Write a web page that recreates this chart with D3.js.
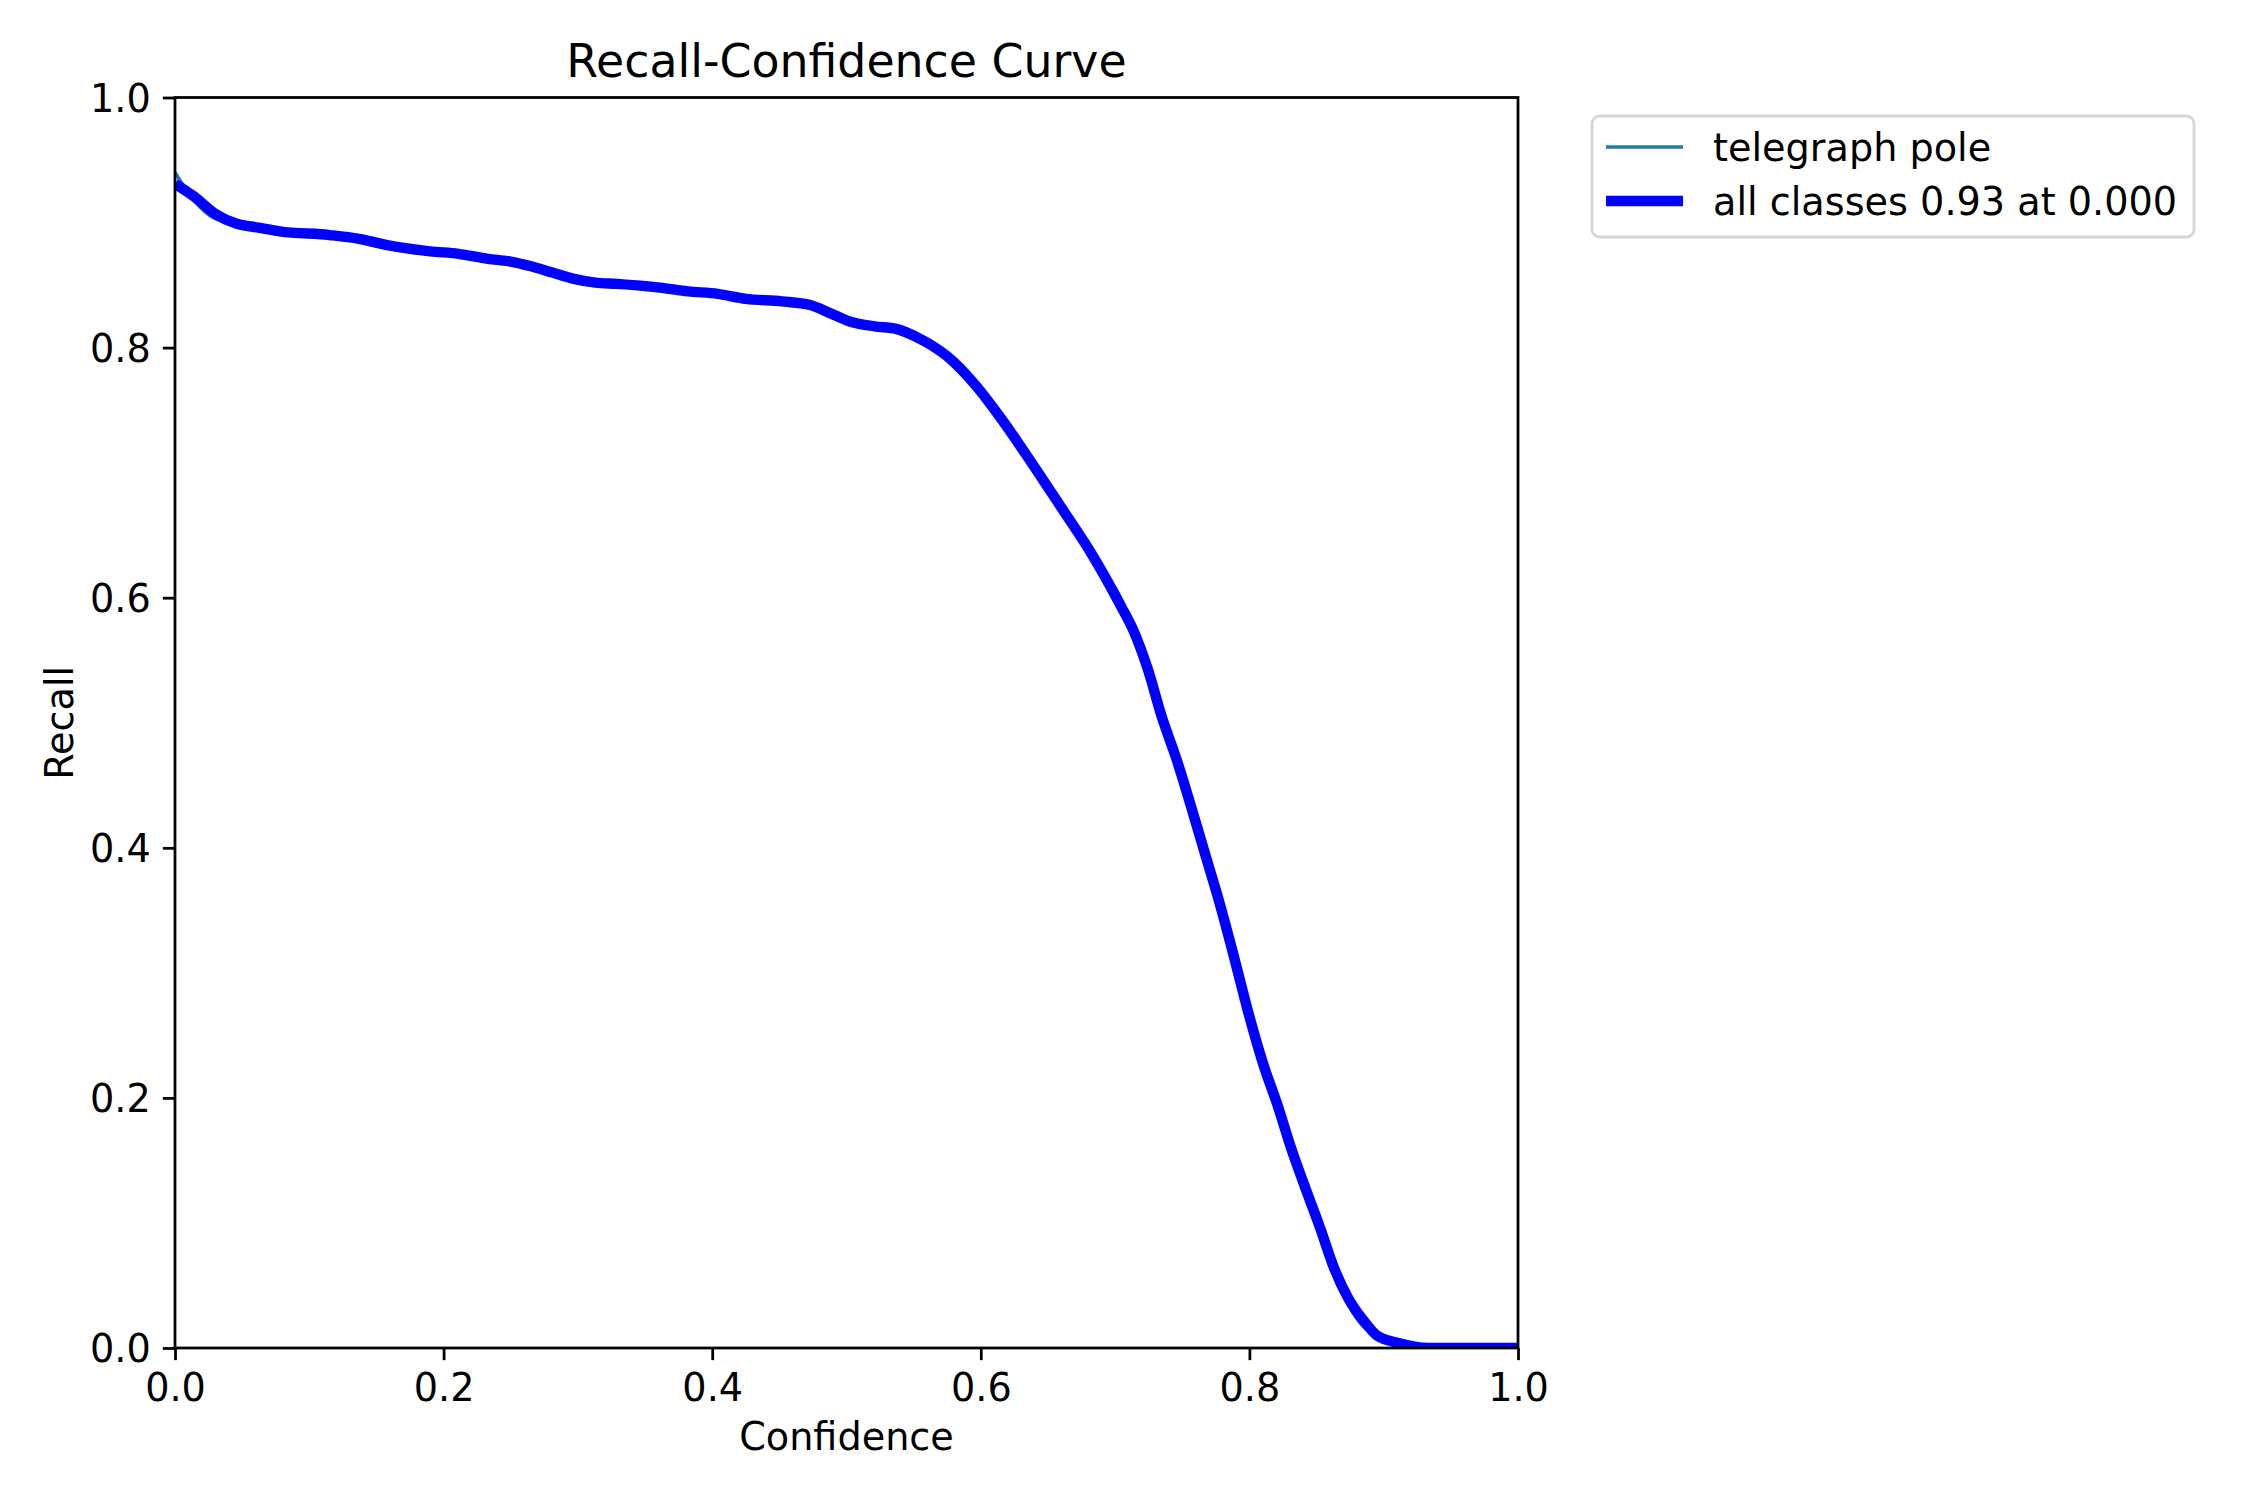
<!DOCTYPE html>
<html>
<head>
<meta charset="utf-8">
<script src="https://cdn.jsdelivr.net/npm/d3@7"></script>
<style>
  body { margin: 0; background: #fff; }
  text { font-family: "DejaVu Sans", sans-serif; fill: #000; }
</style>
</head>
<body>
<div id="chart"></div>
<script>
// confidence thresholds (x) and recall
var confidence = [0.000, 0.014, 0.030, 0.046, 0.062, 0.078, 0.115, 0.137, 0.158, 0.190,
    0.211, 0.233, 0.249, 0.265, 0.281, 0.297, 0.313, 0.329, 0.361, 0.382,
    0.404, 0.425, 0.452, 0.473, 0.489, 0.505, 0.521, 0.537, 0.553, 0.575,
    0.596, 0.618, 0.639, 0.660, 0.682, 0.703, 0.714, 0.724, 0.735, 0.746,
    0.756, 0.767, 0.778, 0.788, 0.799, 0.810, 0.821, 0.831, 0.842, 0.853,
    0.863, 0.874, 0.885, 0.895, 0.911, 0.933, 0.960, 1.000];

var recallAll = [0.931, 0.921, 0.907, 0.899, 0.896, 0.893, 0.890, 0.887, 0.882, 0.877,
    0.875, 0.871, 0.869, 0.865, 0.860, 0.855, 0.852, 0.851, 0.848, 0.845,
    0.843, 0.839, 0.837, 0.834, 0.827, 0.820, 0.817, 0.815, 0.808, 0.793,
    0.770, 0.739, 0.706, 0.672, 0.636, 0.596, 0.573, 0.544, 0.504, 0.470,
    0.435, 0.395, 0.355, 0.315, 0.269, 0.228, 0.194, 0.160, 0.127, 0.095,
    0.064, 0.039, 0.022, 0.010, 0.004, 0.000, 0.000, 0.000];

var recallPole = [0.940, 0.918, 0.903, 0.899, 0.896, 0.893, 0.890, 0.888, 0.881, 0.877,
    0.875, 0.871, 0.869, 0.866, 0.860, 0.855, 0.852, 0.851, 0.848, 0.845,
    0.843, 0.839, 0.837, 0.834, 0.826, 0.819, 0.817, 0.815, 0.810, 0.793,
    0.771, 0.738, 0.710, 0.672, 0.632, 0.602, 0.573, 0.546, 0.504, 0.468,
    0.428, 0.398, 0.352, 0.317, 0.268, 0.226, 0.192, 0.160, 0.124, 0.093,
    0.062, 0.034, 0.017, 0.010, 0.002, 0.000, 0.000, 0.000];

var seriesNames = ["telegraph pole", "all classes 0.93 at 0.000"];
var tickValues = [0, 0.2, 0.4, 0.6, 0.8, 1.0];

var W = 2250, H = 1500;
var margin = { left: 175, right: 732, top: 97.5, bottom: 152 };
var plotW = W - margin.left - margin.right,
    plotH = H - margin.top - margin.bottom;
var fontTick = 38.2, fontTitle = 45.8;
var lwAxis = 2.78, tickLen = 12.15, tickPad = 12.15;

var svg = d3.select("#chart").append("svg")
    .attr("width", W)
    .attr("height", H);

var g = svg.append("g")
    .attr("transform", "translate(" + margin.left + "," + margin.top + ")");

var x = d3.scaleLinear().domain([0, 1]).range([0, plotW]);
var y = d3.scaleLinear().domain([0, 1]).range([plotH, 0]);

g.append("clipPath").attr("id", "plotClip")
    .append("rect").attr("width", plotW).attr("height", plotH);

var poleData = confidence.map(function (c, i) { return [c, recallPole[i]]; });
var allData = confidence.map(function (c, i) { return [c, recallAll[i]]; });

var line = d3.line()
    .x(function (d) { return x(d[0]); })
    .y(function (d) { return y(d[1]); })
    .curve(d3.curveMonotoneX);

var lines = g.append("g").attr("clip-path", "url(#plotClip)");
lines.append("path").datum(poleData)
    .attr("d", line)
    .attr("fill", "none")
    .attr("stroke", "#1f77b4")
    .attr("stroke-width", 3.47);
lines.append("path").datum(allData)
    .attr("d", line)
    .attr("fill", "none")
    .attr("stroke", "#0000ff")
    .attr("stroke-width", 10.4)
    .attr("stroke-linejoin", "round");

// axes
var xAxis = g.append("g")
    .attr("transform", "translate(0," + plotH + ")")
    .call(d3.axisBottom(x).tickValues(tickValues).tickFormat(d3.format(".1f"))
        .tickSize(tickLen).tickPadding(tickPad));
var yAxis = g.append("g")
    .call(d3.axisLeft(y).tickValues(tickValues).tickFormat(d3.format(".1f"))
        .tickSize(tickLen).tickPadding(tickPad));

[xAxis, yAxis].forEach(function (a) {
    a.select(".domain").remove();
    a.selectAll("line").attr("stroke", "#000").attr("stroke-width", lwAxis);
    a.selectAll("text")
        .style("font-family", "DejaVu Sans")
        .style("font-size", fontTick + "px")
        .attr("fill", "#000");
});
xAxis.selectAll("text").attr("dy", "0.76em");
yAxis.selectAll("text").attr("dy", "0.36em");

// frame
g.append("rect")
    .attr("width", plotW).attr("height", plotH)
    .attr("fill", "none")
    .attr("stroke", "#000")
    .attr("stroke-width", lwAxis);

// labels
svg.append("text")
    .attr("x", margin.left + plotW / 2).attr("y", 77)
    .attr("text-anchor", "middle")
    .style("font-size", fontTitle + "px")
    .text("Recall-Confidence Curve");

svg.append("text")
    .attr("x", margin.left + plotW / 2).attr("y", 1450)
    .attr("text-anchor", "middle")
    .style("font-size", fontTick + "px")
    .text("Confidence");

svg.append("text")
    .attr("transform", "translate(73," + (margin.top + plotH / 2) + ") rotate(-90)")
    .attr("text-anchor", "middle")
    .style("font-size", fontTick + "px")
    .text("Recall");

// legend
var legend = svg.append("g").attr("transform", "translate(1592,116)");
legend.append("rect")
    .attr("width", 602).attr("height", 121)
    .attr("rx", 7.6).attr("ry", 7.6)
    .attr("fill", "#fff")
    .attr("stroke", "#d6d6d6")
    .attr("stroke-width", 2.78);

var legendItems = [
    { name: seriesNames[0], color: "#1f77b4", width: 3.47 },
    { name: seriesNames[1], color: "#0000ff", width: 10.4 }
];
var rowY = [31, 85];
legendItems.forEach(function (item, i) {
    legend.append("line")
        .attr("x1", 14).attr("x2", 91)
        .attr("y1", rowY[i]).attr("y2", rowY[i])
        .attr("stroke", item.color)
        .attr("stroke-width", item.width);
    legend.append("text")
        .attr("x", 121).attr("y", rowY[i])
        .attr("dy", "0.36em")
        .style("font-size", fontTick + "px")
        .text(item.name);
});
</script>
</body>
</html>
